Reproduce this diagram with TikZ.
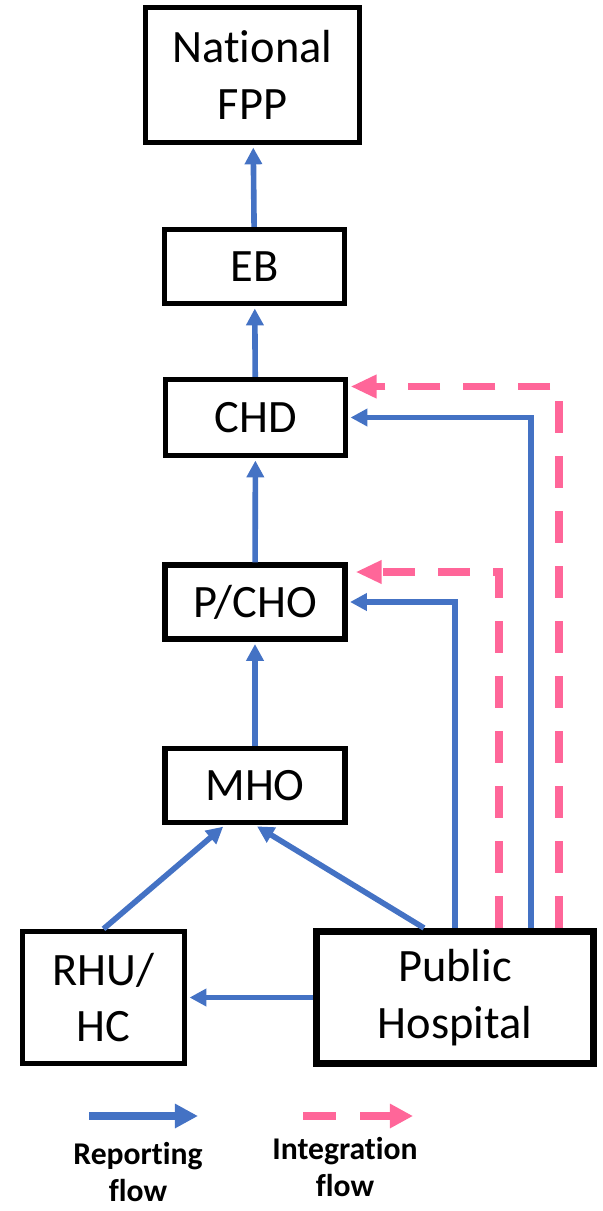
\documentclass[tikz,border=0pt]{standalone}
\usepackage{fontspec}
\setmainfont{Carlito}[Ligatures=NoCommon]
\usetikzlibrary{arrows.meta}
\definecolor{repblue}{HTML}{4472C4}
\definecolor{intpink}{HTML}{FF6699}

\begin{document}
\begin{tikzpicture}[x=0.025cm,y=-0.025cm]
	\tikzset{unit/.style={draw,line width=0.13cm,minimum width=4.5cm,minimum height=1.85cm,font=\fontsize{33}{40}\selectfont,align=center},
		report/.style={-{Triangle[length=0.42cm,width=0.42cm]},repblue,line width=0.14cm,shorten >=0.06cm},
		integ/.style={-{Triangle[length=0.65cm,width=0.55cm]},intpink,line width=0.19cm,dash pattern=on 0.8cm off 0.575cm},
		legendtext/.style={font=\fontsize{22.5}{26}\selectfont\bfseries,align=center}};
	\useasboundingbox (0,0) rectangle (603,1211);
	\node[unit,minimum width=5.35cm,minimum height=3.375cm] (national) at (252.5,75) {National\\FPP};
	\node[unit] (eb) at (254.5,266.5) {EB};
	\node[unit,minimum height=1.9cm] (chd) at (255.5,417.5) {CHD};
	\node[unit] (pcho) at (255,602) {P/CHO};
	\node[unit] (mho) at (255,785.5) {MHO};
	\node[unit,minimum width=4.05cm,minimum height=3.3cm] (rhu) at (103.5,997.5) {RHU/\\HC};
	\node[unit,line width=0.175cm,minimum width=6.925cm,minimum height=3.3cm] (hospital) at (455,997.5) {Public\\Hospital};
	\draw[report] (eb) -- (national);
	\draw[report] (chd) -- (eb);
	\draw[report] (pcho) -- (chd);
	\draw[report] (mho) -- (pcho);
	\draw[report] (rhu.north) -- ([xshift=-0.75cm]mho.south);
	\draw[report] ([xshift=-0.775cm]hospital.north) -- (mho.south);
	\draw[report] (hospital.west) -- (rhu.east);
	\draw[report] (hospital.north) |- (pcho.east);
	\draw[report] ([xshift=1.9cm]hospital.north) |- (chd.east);
	\draw[integ,shorten >=0.2cm] ([xshift=1.1cm]hospital.north) |- ([yshift=0.75cm]pcho.east);
	\draw[integ,shorten >=0.06cm] ([xshift=2.6cm]hospital.north) |- ([yshift=0.775cm]chd.east);
	\coordinate (repstart) at (89,1116);
	\coordinate (repend) at (198,1116);
	\coordinate (intstart) at (303,1116);
	\coordinate (intend) at (413,1116);
	\draw[report,line width=0.2cm,shorten >=0pt,-{Triangle[length=0.575cm,width=0.575cm]}] (repstart) -- (repend);
	\draw[integ,line width=0.2cm,-{Triangle[length=0.575cm,width=0.575cm]},dash pattern=on 0.825cm off 0.6cm] (intstart) -- (intend);
	\node[legendtext] (replabel) at (138,1172) {Reporting\\flow};
	\node[legendtext] (intlabel) at (345,1167) {Integration\\flow};
\end{tikzpicture}
\end{document}
